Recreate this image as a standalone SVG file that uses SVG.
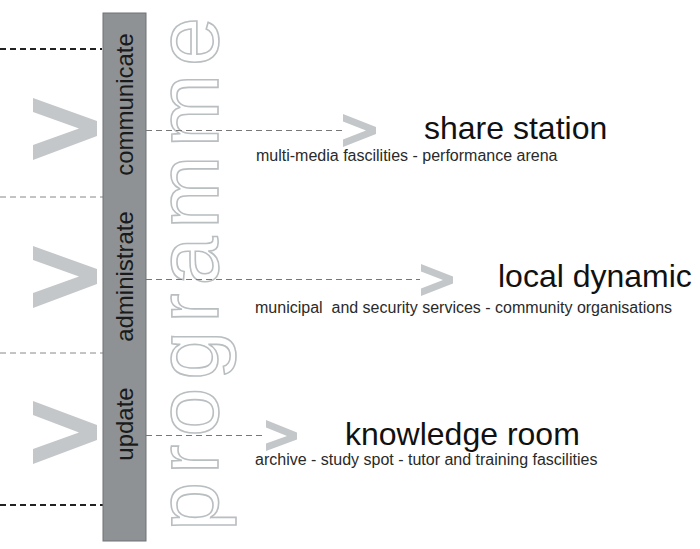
<svg xmlns="http://www.w3.org/2000/svg" width="700" height="549" viewBox="0 0 700 549">
<style>
.lbl{font-family:"Liberation Sans",Arial,sans-serif;font-size:24px;fill:#1a1a1a}
.title{font-family:"Liberation Sans",Arial,sans-serif;font-size:32px;fill:#111}
.sub{font-family:"Liberation Sans",Arial,sans-serif;font-size:16px;fill:#2a2a2a}
.big{fill:#c3c7c9}
.small{fill:#c3c7c9}
.dk{stroke:#222;stroke-width:2;stroke-dasharray:6 4;fill:none}
.gr{stroke:#888;stroke-width:1;stroke-dasharray:6 4;fill:none}
.conn{stroke:#777;stroke-width:1;stroke-dasharray:6 4;fill:none}
</style>
<rect width="700" height="549" fill="#fff"/>
<g id="programme-word">
<text transform="translate(218,531) rotate(-90)" font-family="'Liberation Sans',Arial,sans-serif" font-size="88" letter-spacing="8" fill="none" stroke="#b9bec1" stroke-width="1.6">programme</text>
</g>
<g id="left-dividers">
<line class="dk" x1="0" y1="49" x2="102" y2="49"/>
<line class="gr" x1="0" y1="197" x2="103" y2="197"/>
<line class="gr" x1="0" y1="353" x2="103" y2="353"/>
<line class="dk" x1="0" y1="505" x2="103" y2="505"/>
</g>
<g id="big-chevrons">
<polygon class="big" points="33,98 97,121 97,136 33,160 33,145 79,128.5 33,112"/>
<polygon class="big" points="33,246 97,269 97,284 33,308 33,293 79,276.5 33,260"/>
<polygon class="big" points="33,401 97,425 97,440 33,464 33,449 79,432.5 33,415"/>
</g>
<g id="bar">
<rect x="103" y="13" width="43" height="528" fill="#8e9295" stroke="#6f7376" stroke-width="1"/>
</g>
<g id="communicate">
<text class="lbl" transform="translate(133,104.5) rotate(-90)" text-anchor="middle">communicate</text>
</g>
<g id="administrate">
<text class="lbl" transform="translate(133,276.5) rotate(-90)" text-anchor="middle">administrate</text>
</g>
<g id="update">
<text class="lbl" transform="translate(133,424) rotate(-90)" text-anchor="middle">update</text>
</g>
<g id="connectors">
<line class="conn" x1="146" y1="130.5" x2="342" y2="130.5"/>
<polygon class="small" points="343,114 376,127 376,134 343,147 343,139.5 366,130.5 343,121.5"/>
<line class="conn" x1="146" y1="279.5" x2="420" y2="279.5"/>
<polygon class="small" points="421,264 453,276.5 453,283.5 421,296 421,288.5 443,280 421,271.5"/>
<line class="conn" x1="146" y1="435.5" x2="266" y2="435.5"/>
<polygon class="small" points="266,420 297,432.5 297,439.5 266,451 266,443.5 287,436 266,427.5"/>
</g>
<g id="share-station">
<text class="title" x="424" y="139">share station</text>
<text class="sub" x="256" y="161">multi-media fascilities - performance arena</text>
</g>
<g id="local-dynamic">
<text class="title" x="498" y="287">local dynamic</text>
<text class="sub" x="255" y="313" xml:space="preserve">municipal  and security services - community organisations</text>
</g>
<g id="knowledge-room">
<text class="title" x="345" y="445">knowledge room</text>
<text class="sub" x="255" y="465">archive - study spot - tutor and training fascilities</text>
</g>
</svg>
